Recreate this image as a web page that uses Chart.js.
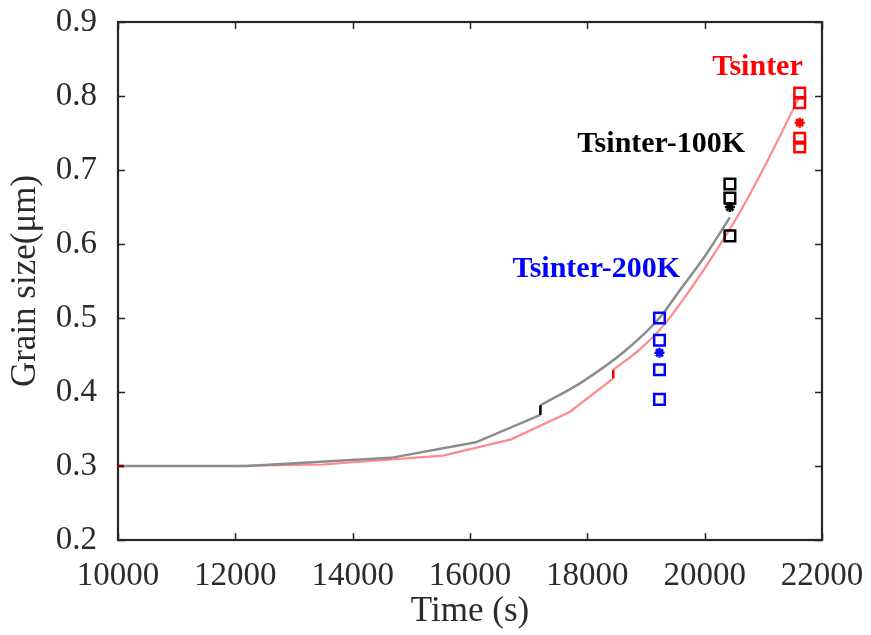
<!DOCTYPE html>
<html>
<head>
<meta charset="utf-8">
<script src="https://cdn.jsdelivr.net/npm/chart.js@4.4.1/dist/chart.umd.min.js"></script>
<style>
  body { margin: 0; background: #fff; }
</style>
</head>
<body>
<canvas id="grainChart" width="871" height="635"></canvas>
<script>
// model curve, Tsinter-100K (gray): before and after the step at 17200 s
const grayTimeA = [10000, 12200, 14650, 16100, 17200];
const graySizeA = [0.300, 0.300, 0.311, 0.332, 0.369];
const grayTimeB = [17200, 17900, 18650, 19240, 19600, 20000, 20430];
const graySizeB = [0.382, 0.413, 0.456, 0.501, 0.540, 0.583, 0.636];

// model curve, Tsinter (light red): before and after the step at ~18440 s
const redTimeA = [10000, 12000, 13500, 15540, 16700, 17700, 18442];
const redSizeA = [0.300, 0.300, 0.302, 0.314, 0.336, 0.373, 0.4185];
const redTimeB = [18442, 18900, 19300, 19750, 20090, 20600, 21080, 21620];
const redSizeB = [0.430, 0.458, 0.490, 0.538, 0.578, 0.643, 0.714, 0.800];

// small step marks drawn darker
const grayStepTime = [17200, 17200];
const grayStepSize = [0.369, 0.382];
const redStepTime = [18442, 18442];
const redStepSize = [0.4185, 0.430];
const startTime = [10000, 10100];
const startSize = [0.300, 0.300];

// measured grain sizes (squares) and their mean (asterisk)
const time200K = 19230;
const sizes200K = [0.500, 0.470, 0.430, 0.390];
const mean200K = 0.453;
const time100K = 20430;
const sizes100K = [0.681, 0.662, 0.611];
const mean100K = 0.650;
const timeSinter = 21620;
const sizesSinter = [0.804, 0.791, 0.743, 0.731];
const meanSinter = 0.764;

const xTicks = [10000, 12000, 14000, 16000, 18000, 20000, 22000];
const yTicks = [0.2, 0.3, 0.4, 0.5, 0.6, 0.7, 0.8, 0.9];

const labelTexts = ['Tsinter', 'Tsinter-100K', 'Tsinter-200K'];

function pts(xs, ys) {
    return xs.map((x, i) => ({ x: x, y: ys[i] }));
}

function column(t, ys) {
    return ys.map(y => ({ x: t, y: y }));
}

const serif = "'Liberation Serif', 'Times New Roman', serif";

// where the three curve names sit (data coords, text baseline, left aligned)
const labelSpots = [
    { x: 20128, y: 0.8284, color: '#ff0000' },
    { x: 17830, y: 0.7247, color: '#000000' },
    { x: 16723, y: 0.5558, color: '#0000ff' }
];

const framePlugin = {
    id: 'frame',
    beforeDatasetsDraw(chart) {
        const { ctx, chartArea: a, scales: { x, y } } = chart;
        ctx.save();
        ctx.strokeStyle = '#262626';
        ctx.lineWidth = 1.5;
        const len = 7;
        ctx.beginPath();
        xTicks.forEach(v => {
            const px = Math.round(x.getPixelForValue(v)) + 0.5;
            ctx.moveTo(px, a.bottom); ctx.lineTo(px, a.bottom - len);
            ctx.moveTo(px, a.top); ctx.lineTo(px, a.top + len);
        });
        yTicks.forEach(v => {
            const py = Math.round(y.getPixelForValue(v)) + 0.5;
            ctx.moveTo(a.left, py); ctx.lineTo(a.left + len, py);
            ctx.moveTo(a.right, py); ctx.lineTo(a.right - len, py);
        });
        ctx.stroke();
        ctx.lineWidth = 2.2;
        ctx.strokeRect(a.left, a.top, a.right - a.left, a.bottom - a.top);
        ctx.restore();
    }
};

const labelPlugin = {
    id: 'curveLabels',
    afterDatasetsDraw(chart) {
        const { ctx, scales: { x, y } } = chart;
        ctx.save();
        ctx.font = "bold 30px " + serif;
        ctx.textAlign = 'left';
        ctx.textBaseline = 'alphabetic';
        labelTexts.forEach((t, i) => {
            const s = labelSpots[i];
            ctx.fillStyle = s.color;
            ctx.fillText(t, x.getPixelForValue(s.x), y.getPixelForValue(s.y));
        });
        ctx.restore();
    }
};

function squares(t, ys, color) {
    return {
        data: column(t, ys),
        pointStyle: 'rect',
        pointRadius: 7.5,
        borderColor: color,
        backgroundColor: 'transparent',
        borderWidth: 2.5,
        showLine: false,
        order: 0
    };
}

function star(t, v, color) {
    return {
        data: [{ x: t, y: v }],
        pointStyle: 'star',
        pointRadius: 5,
        borderColor: color,
        backgroundColor: color,
        borderWidth: 2.5,
        showLine: false,
        order: 0
    };
}

function curve(xs, ys, color, width, order, smooth) {
    return {
        data: pts(xs, ys),
        showLine: true,
        pointRadius: 0,
        borderColor: color,
        borderWidth: width,
        tension: 0,
        cubicInterpolationMode: smooth ? 'monotone' : 'default',
        order: order
    };
}

const ctx = document.getElementById('grainChart').getContext('2d');

new Chart(ctx, {
    type: 'scatter',
    data: {
        datasets: [
            curve(redTimeA, redSizeA, '#ff8a8a', 2.2, 4, false),
            curve(redTimeB, redSizeB, '#ff8a8a', 2.2, 4, true),
            curve(grayTimeA, graySizeA, '#8c8c8c', 2.5, 3, false),
            curve(grayTimeB, graySizeB, '#8c8c8c', 2.5, 3, true),
            curve(grayStepTime, grayStepSize, '#000000', 2.5, 1, false),
            curve(redStepTime, redStepSize, '#ee0000', 2.5, 1, false),
            curve(startTime, startSize, '#800000', 2.5, 1, false),
            squares(time200K, sizes200K, '#0000ff'),
            star(time200K, mean200K, '#0000ff'),
            squares(time100K, sizes100K, '#000000'),
            star(time100K, mean100K, '#000000'),
            squares(timeSinter, sizesSinter, '#ff0000'),
            star(timeSinter, meanSinter, '#ff0000')
        ]
    },
    options: {
        responsive: false,
        animation: false,
        devicePixelRatio: 1,
        layout: { padding: { left: 0, right: 49, top: 22, bottom: 0 } },
        plugins: {
            legend: { display: false },
            tooltip: { enabled: false }
        },
        scales: {
            x: {
                type: 'linear',
                min: 10000,
                max: 22000,
                afterFit: s => { s.height = 95; s.paddingLeft = 0; s.paddingRight = 0; },
                afterBuildTicks: s => { s.ticks = xTicks.map(v => ({ value: v })); },
                grid: { display: false, drawTicks: false },
                border: { display: false },
                ticks: {
                    padding: 17,
                    color: '#2b2b2b',
                    font: { family: serif, size: 33 },
                    callback: v => String(v)
                },
                title: {
                    display: true,
                    text: 'Time (s)',
                    color: '#2b2b2b',
                    font: { family: serif, size: 35 },
                    padding: { top: 0, bottom: 2 }
                }
            },
            y: {
                type: 'linear',
                min: 0.2,
                max: 0.9,
                afterFit: s => { s.width = 118; s.paddingTop = 0; s.paddingBottom = 0; },
                afterBuildTicks: s => { s.ticks = yTicks.map(v => ({ value: v })); },
                grid: { display: false, drawTicks: false },
                border: { display: false },
                ticks: {
                    padding: 21,
                    color: '#2b2b2b',
                    font: { family: serif, size: 33 },
                    callback: v => v.toFixed(1)
                },
                title: {
                    display: true,
                    text: 'Grain size(μm)',
                    color: '#2b2b2b',
                    font: { family: serif, size: 35 },
                    padding: { top: 5, bottom: 0 }
                }
            }
        }
    },
    plugins: [framePlugin, labelPlugin]
});
</script>
</body>
</html>
